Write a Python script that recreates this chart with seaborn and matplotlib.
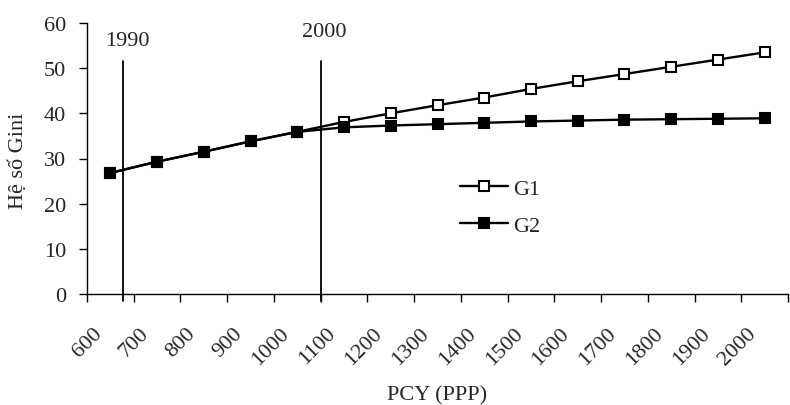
import matplotlib
matplotlib.use("Agg")
import matplotlib.pyplot as plt
import matplotlib.transforms as mtransforms
import numpy as np
import pandas as pd
import seaborn as sns

pcy_labels = ["600", "700", "800", "900", "1000", "1100", "1200", "1300",
              "1400", "1500", "1600", "1700", "1800", "1900", "2000"]
g1 = [26.8, 29.3, 31.5, 33.8, 35.9, 38.1, 40.0, 41.8, 43.5, 45.4,
      47.1, 48.7, 50.3, 51.9, 53.5]
g2 = [26.8, 29.3, 31.5, 33.8, 35.9, 36.9, 37.3, 37.6, 37.9, 38.2,
      38.4, 38.6, 38.7, 38.8, 38.9]
year_labels = ["1990", "2000"]
year_pos = [0.28, 4.5]  # position on the category axis
year_line_top = 51.5

sns.set_theme(style="white")
plt.rcParams["font.family"] = ["Liberation Serif", "DejaVu Serif"]
FS = 16

frame = pd.DataFrame({"idx": np.arange(len(pcy_labels)), "G1": g1, "G2": g2})

fig = plt.figure(figsize=(7.9, 4.06), dpi=100)
ax = fig.add_axes([87 / 790, 1 - 295 / 406, (788 - 87) / 790, (295 - 24) / 406])

sns.lineplot(data=frame, x="idx", y="G1", ax=ax, color="black", lw=1.7,
             marker="s", markersize=6.5, markerfacecolor="white",
             markeredgecolor="black", markeredgewidth=1.5, label="G1")
sns.lineplot(data=frame, x="idx", y="G2", ax=ax, color="black", lw=1.7,
             marker="s", markersize=6.8, markerfacecolor="black",
             markeredgecolor="black", markeredgewidth=1.5, label="G2")

year_text_y = [46.5, 48.5]
for pos, lab, ty in zip(year_pos, year_labels, year_text_y):
    ax.plot([pos, pos], [-1.5, year_line_top], color="black", lw=1.3,
            clip_on=False, zorder=1)
    ax.text(pos - 0.4, year_line_top + (ty - 46.5) + 4.6, lab, fontsize=FS,
            ha="left", va="center")

ax.set_xlim(-0.5, len(pcy_labels) - 0.5)
ax.set_ylim(0, 60)
ax.set_yticks(range(0, 61, 10))
ax.set_xticks(np.arange(len(pcy_labels)))
ax.set_xticklabels(pcy_labels, rotation=45, ha="right", va="center",
                   rotation_mode="anchor")
ax.set_xticks(np.arange(-0.5, len(pcy_labels)), minor=True)
ax.tick_params(axis="x", which="major", length=0, pad=26, labelsize=FS)
ax.tick_params(axis="x", which="minor", length=6, width=1, direction="out",
               color="black", bottom=True)
ax.tick_params(axis="y", length=6, width=1, direction="out", color="black",
               left=True, labelsize=FS, pad=9)

shift = mtransforms.ScaledTranslation(-11 / 100, 0, fig.dpi_scale_trans)
for lbl in ax.get_xticklabels():
    lbl.set_transform(lbl.get_transform() + shift)

for side in ["top", "right"]:
    ax.spines[side].set_visible(False)
for side in ["left", "bottom"]:
    ax.spines[side].set_color("black")
    ax.spines[side].set_linewidth(1)

ax.set_xlabel("PCY (PPP)", fontsize=FS)
ax.set_ylabel("Hệ số Gini", fontsize=FS)
ax.xaxis.set_label_coords(0.5, -(396 - 295) / 271, transform=ax.transAxes)
ax.xaxis.label.set_va("center")
ax.yaxis.set_label_coords(-(87 - 18) / 701, (295 - 161) / 271)
ax.yaxis.label.set_va("center")

leg = ax.legend(loc="center left", bbox_to_anchor=(0.503, 0.32), frameon=False,
                fontsize=FS, handlelength=2.2, handletextpad=0.2,
                labelspacing=0.75)

fig.savefig("out.png", dpi=100)
